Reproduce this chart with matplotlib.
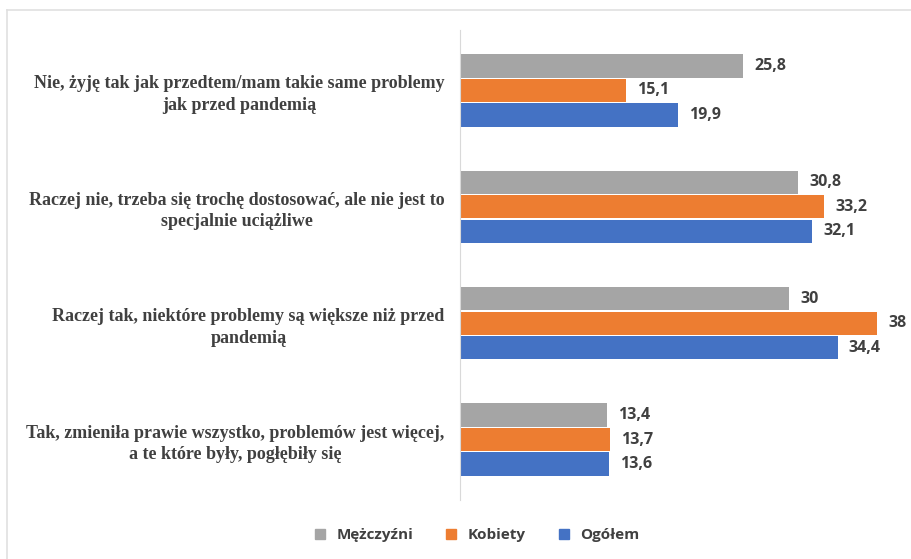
import matplotlib.pyplot as plt
import numpy as np
from matplotlib.lines import Line2D

categories = [
    "Nie, żyję tak jak przedtem/mam takie same problemy\njak przed pandemią",
    "Raczej nie, trzeba się trochę dostosować, ale nie jest to\nspecjalnie uciążliwe",
    "Raczej tak, niektóre problemy są większe niż przed\npandemią",
    "Tak, zmieniła prawie wszystko, problemów jest więcej,\na te które były, pogłębiły się",
]
series_names = ["Mężczyźni", "Kobiety", "Ogółem"]
men = [25.8, 30.8, 30, 13.4]
women = [15.1, 33.2, 38, 13.7]
total = [19.9, 32.1, 34.4, 13.6]
colors = ["#A5A5A5", "#ED7D31", "#4472C4"]

fig = plt.figure(figsize=(9.11, 5.59), dpi=100)
ax = fig.add_axes([460 / 911, 1 - 500 / 559, 439 / 911, 470 / 559])

y = np.arange(len(categories))
h = 0.2
for i, (vals, name, c) in enumerate(zip([men, women, total], series_names, colors)):
    pos = y + (i - 1) * h * 1.05
    ax.barh(pos, vals, height=h, color=c, label=name)
    for p, v in zip(pos, vals):
        txt = f"{v:g}".replace(".", ",")
        ax.annotate(txt, (v, p), xytext=(8, 0), textcoords="offset points",
                    va="center", ha="left", fontsize=11.5, fontweight="bold",
                    color="#404040", family="Open Sans")

ax.set_xlim(0, 40)
ax.set_ylim(3.52, -0.52)
ax.set_yticks(y)
ax.set_yticklabels(categories, family="Liberation Serif", fontweight="bold",
                   fontsize=13, color="#404040", multialignment="center",
                   linespacing=1.35)
ax.tick_params(axis="y", length=0, pad=11)
ax.set_xticks([])
for s in ["top", "right", "bottom"]:
    ax.spines[s].set_visible(False)
ax.spines["left"].set_color("#D9D9D9")

handles = [Line2D([], [], marker="s", linestyle="", markersize=7, color=c) for c in colors]
fig.legend(handles, series_names, loc="center", bbox_to_anchor=(472 / 911, 1 - 535 / 559),
           ncol=3, frameon=False, handletextpad=0.05, columnspacing=1.5,
           prop={"family": "Open Sans", "weight": "bold", "size": 11},
           labelcolor="#404040")

# outer frame
fig.add_artist(Line2D([7 / 911, 1], [1 - 10 / 559] * 2, color="#E0E0E0", lw=1.2))
fig.add_artist(Line2D([7 / 911] * 2, [0, 1 - 10 / 559], color="#E0E0E0", lw=1.2))

fig.savefig("out.png", dpi=100, facecolor="white")
